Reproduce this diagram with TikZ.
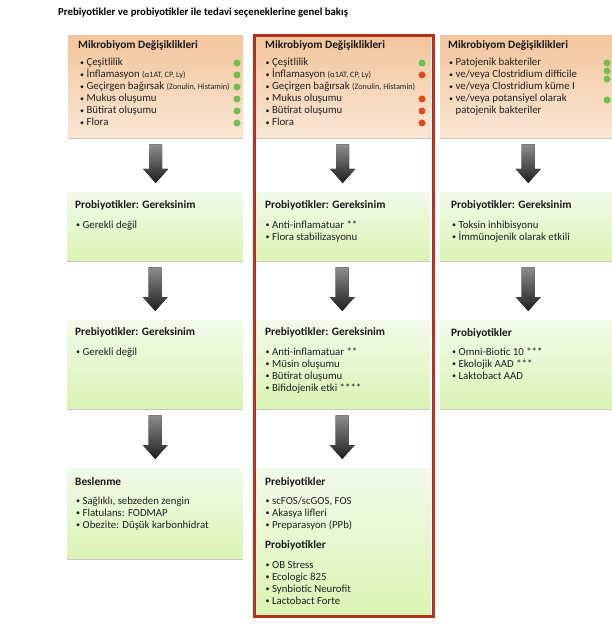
\documentclass[tikz,border=0pt]{standalone}
\usepackage{fontspec}
\setmainfont{Carlito}
\usetikzlibrary{shadows,calc}
\definecolor{orTop}{HTML}{F2C59C}
\definecolor{orBot}{HTML}{FAE6D4}
\definecolor{grTop}{HTML}{F2FAEA}
\definecolor{grBot}{HTML}{DBF4B4}
\definecolor{frameRed}{HTML}{B5301E}
\definecolor{dotGreen}{HTML}{6DC04B}
\definecolor{dotRed}{HTML}{DD4B1E}
\newcommand\bul{\makebox[6.4pt][l]{\raisebox{0.7pt}{\fontsize{8}{8}\selectfont\textbullet}}}
\newcommand\sm[1]{{\fontsize{8.2}{9}\selectfont #1}}
\tikzset{
  boxbase/.style={rectangle, draw=none, inner sep=0pt, anchor=north west,
    drop shadow={shadow xshift=0pt, shadow yshift=-2pt, opacity=0.22, fill=black}},
  obox/.style={boxbase, top color=orTop, bottom color=orBot},
  gbox/.style={boxbase, top color=grTop, bottom color=grBot},
  hd/.style={font=\bfseries\fontsize{11.3}{13}\selectfont, anchor=base west, inner sep=0pt, text=black!90},
  itm/.style={font=\fontsize{10.8}{12}\selectfont, anchor=base west, inner sep=0pt, text=black!88},
  ttl/.style={font=\bfseries\fontsize{10.75}{12}\selectfont, anchor=base west, inner sep=0pt},
  gdot/.style={circle, fill=dotGreen, minimum size=7pt, inner sep=0pt},
  rdot/.style={circle, fill=dotRed, minimum size=7pt, inner sep=0pt},
  arrowfill/.style={top color=black!45, bottom color=black!88, draw=none},
  redframe/.style={rectangle, draw=frameRed, line width=3pt, inner sep=0pt, anchor=north west}
}
\newcommand\barrow[2]{%
  \fill[arrowfill] let \p1=(#1.south), \p2=(#2.north) in
    (\x1-6.5pt,\y1-7pt) -- (\x1+6.5pt,\y1-7pt) -- (\x1+6.5pt,\y2+23pt) --
    (\x1+12.5pt,\y2+23pt) -- (\x1,\y2+9pt) -- (\x1-12.5pt,\y2+23pt) --
    (\x1-6.5pt,\y2+23pt) -- cycle;}
\newcommand\lst[4]{%
  \foreach \t [count=\i] in {#4}
    \node[itm] (#1-\i) at ({#2},{#3+12*(\i-1)}) {\bul\t};}
\begin{document}
\begin{tikzpicture}[x=1pt,y=-1pt]
\useasboundingbox[fill=white] (0,0) rectangle (612,631);

\node[ttl] (title) at (58,15.5) {Prebiyotikler ve probiyotikler ile tedavi seçeneklerine genel bakış};

% ---- boxes
\node[obox, minimum width=175pt, minimum height=102pt] (o1) at (68,35) {};
\node[obox, minimum width=177pt, minimum height=102pt] (o2) at (254,35) {};
\node[obox, minimum width=176pt, minimum height=102pt] (o3) at (440,35) {};

\node[gbox, minimum width=176pt, minimum height=68pt] (g1a) at (67,192) {};
\node[gbox, minimum width=176pt, minimum height=68pt] (g1b) at (254,192) {};
\node[gbox, minimum width=176pt, minimum height=68pt] (g1c) at (440,192) {};

\node[gbox, minimum width=176pt, minimum height=88pt] (g2a) at (67,320) {};
\node[gbox, minimum width=176pt, minimum height=88pt] (g2b) at (254,320) {};
\node[gbox, minimum width=176pt, minimum height=88pt] (g2c) at (440,320) {};

\node[gbox, minimum width=176pt, minimum height=90pt] (g3a) at (67,468) {};
\node[gbox, minimum width=177pt, minimum height=146pt] (g3b) at (254,468) {};

% ---- arrows
\barrow{o1}{g1a}
\barrow{o2}{g1b}
\barrow{o3}{g1c}
\barrow{g1a}{g2a}
\barrow{g1b}{g2b}
\barrow{g1c}{g2c}
\barrow{g2a}{g3a}
\barrow{g2b}{g3b}

% ---- orange texts
\node[hd] (o1h) at (78,49) {Mikrobiyom Değişiklikleri};
\lst{o1i}{80}{66}{Çeşitlilik, {İnflamasyon \sm{(α1AT, CP, Ly)}}, {Geçirgen bağırsak \sm{(Zonulin, Histamin)}}, Mukus oluşumu, Bütirat oluşumu, Flora}
\foreach \k in {0,...,5} \node[gdot] (o1d\k) at (237,{63+12*\k}) {};

\node[hd] (o2h) at (265,49) {Mikrobiyom Değişiklikleri};
\lst{o2i}{265.5}{66}{Çeşitlilik, {İnflamasyon \sm{(α1AT, CP, Ly)}}, {Geçirgen bağırsak \sm{(Zonulin, Histamin)}}, Mukus oluşumu, Bütirat oluşumu, Flora}
\node[gdot] (o2d0) at (422,63) {};
\node[rdot] (o2d1) at (422,75) {};
\node[rdot] (o2d3) at (422,99) {};
\node[rdot] (o2d4) at (422,111) {};
\node[rdot] (o2d5) at (422,123) {};

\node[hd] (o3h) at (448,49) {Mikrobiyom Değişiklikleri};
\lst{o3i}{449}{66}{Patojenik bakteriler, ve/veya Clostridium difficile, ve/veya Clostridium küme I, ve/veya potansiyel olarak}
\node[itm] (o3i-5) at (455.4,114) {patojenik bakteriler};
\node[gdot] (o3d1) at (607,63) {};
\node[gdot] (o3d2) at (607,71) {};
\node[gdot] (o3d3) at (607,79) {};
\node[gdot] (o3d4) at (607,100) {};

% ---- green row 1
\node[hd] (g1ah) at (75,208.5) {Probiyotikler: Gereksinim};
\lst{g1ai}{76}{228}{Gerekli değil}
\node[hd] (g1bh) at (265,208.5) {Probiyotikler: Gereksinim};
\lst{g1bi}{265.5}{228}{Anti-inflamatuar **, Flora stabilizasyonu}
\node[hd] (g1ch) at (451,208.5) {Probiyotikler: Gereksinim};
\lst{g1ci}{452}{228}{Toksin inhibisyonu, İmmünojenik olarak etkili}

% ---- green row 2
\node[hd] (g2ah) at (75,335.5) {Prebiyotikler: Gereksinim};
\lst{g2ai}{76}{355}{Gerekli değil}
\node[hd] (g2bh) at (265,335.5) {Prebiyotikler: Gereksinim};
\lst{g2bi}{265.5}{355}{Anti-inflamatuar **, Müsin oluşumu, Bütirat oluşumu, Bifidojenik etki ****}
\node[hd] (g2ch) at (451,336.5) {Probiyotikler};
\lst{g2ci}{452}{355}{Omni-Biotic 10 ***, Ekolojik AAD ***, Laktobact AAD}

% ---- green row 3
\node[hd] (g3ah) at (75,485.5) {Beslenme};
\lst{g3ai}{76}{504}{{Sağlıklı, sebzeden zengin}, Flatulans: FODMAP, Obezite: Düşük karbonhidrat}
\node[hd] (g3bh) at (265,485.5) {Prebiyotikler};
\lst{g3bi}{265.5}{504}{{scFOS/scGOS, FOS}, Akasya lifleri, Preparasyon (PPb)}
\node[hd] (g3bh2) at (265,548.5) {Probiyotikler};
\lst{g3bj}{265.5}{568}{OB Stress, Ecologic 825, Synbiotic Neurofit, Lactobact Forte}

% ---- red frame
\node[redframe, minimum width=179pt, minimum height=580pt] (frame) at (252.5,34.5) {};
\end{tikzpicture}
\end{document}
